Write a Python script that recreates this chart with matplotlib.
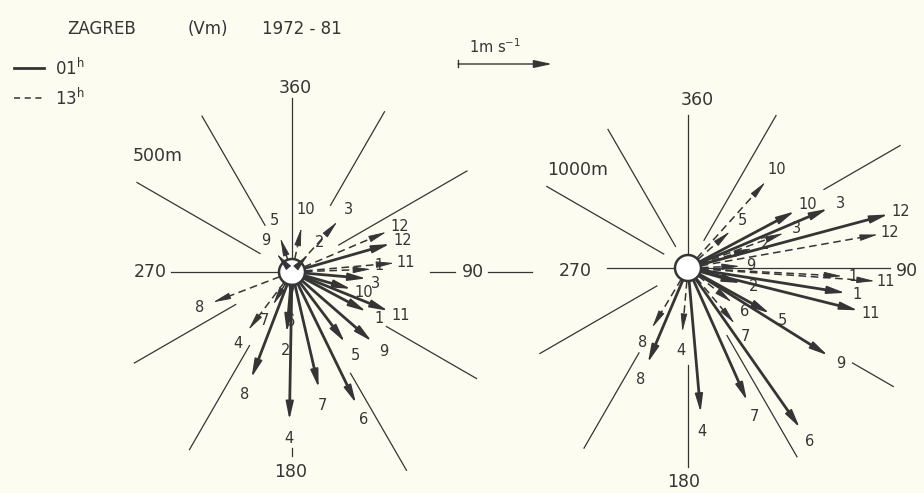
import numpy as np
import matplotlib
matplotlib.use("Agg")
import matplotlib.pyplot as plt
from matplotlib.patches import Circle

# mean wind vectors, Zagreb 1972-81: direction the arrow points (deg from N), speed (m/s)
months = [1, 2, 3, 4, 5, 6, 7, 8, 9, 10, 11, 12]

# 500 m
dir_500_01h = [118, 185, 95, 181, 143, 154, 167, 201, 131, 106, 112, 74]
spd_500_01h = [0.89, 0.64, 0.79, 1.57, 0.93, 1.55, 1.26, 1.20, 1.12, 0.65, 1.10, 1.08]
dir_500_13h = [88, 43, 42, 217, 341, 182, 210, 249, 320, 12, 85, 67]
spd_500_13h = [0.84, 0.25, 0.72, 0.77, 0.38, 0.32, 0.40, 0.90, 0.25, 0.48, 1.09, 1.09]

# 1000 m
dir_1000_01h = [99, 106, 67, 175, 119, 145, 156, 203, 122, 62, 104, 75]
spd_1000_01h = [1.69, 0.58, 1.61, 1.54, 0.99, 2.07, 1.54, 1.09, 1.75, 1.28, 1.86, 2.20]
dir_1000_13h = [93, 73, 70, 185, 49, 128, 140, 211, 88, 42, 94, 80]
spd_1000_13h = [1.64, 0.71, 1.08, 0.68, 0.59, 0.59, 0.77, 0.74, 0.55, 1.23, 1.99, 2.05]

INK = "#353535"
BG = "#fcfcf1"
SCALE = 94.0      # px per 1 m/s
R_CIRC = 13.0

# small label shifts (px) where month numbers would collide
nudge = {("L", True, 1): (-3, -3), ("L", False, 3): (-2, 4)}

fig = plt.figure(figsize=(9.24, 4.93), dpi=100, facecolor=BG)
ax = fig.add_axes([0, 0, 1, 1])
ax.set_xlim(0, 924)
ax.set_ylim(493, 0)
ax.axis("off")
ax.set_facecolor(BG)
plt.rcParams["font.family"] = ["DejaVu Sans"]


def pos(c, deg, r):
    t = np.radians(deg)
    return c[0] + r * np.sin(t), c[1] - r * np.cos(t)


def spoke(c, deg, r0, r1):
    x0, y0 = pos(c, deg, r0)
    x1, y1 = pos(c, deg, r1)
    ax.plot([x0, x1], [y0, y1], color=INK, lw=0.9, zorder=1)


def vec(key, c, deg, spd, lab, dashed):
    r = spd * SCALE
    lw = 1.1 if dashed else 2.0
    ls = (0, (5, 3)) if dashed else "-"
    hl = 11
    rb = max(r - hl, R_CIRC)
    x0, y0 = pos(c, deg, R_CIRC)
    xb, yb = pos(c, deg, rb)
    xt, yt = pos(c, deg, r)
    if rb > R_CIRC:
        ax.plot([x0, xb], [y0, yb], color=INK, lw=lw, ls=ls, zorder=3,
                solid_capstyle="butt")
    hw = 0.10 if dashed else 0.12
    ax.annotate("", xy=(xt, yt), xytext=(xb, yb),
                arrowprops=dict(arrowstyle=f"-|>,head_length=0.55,head_width={hw}",
                                mutation_scale=20, color=INK, lw=lw * 0.6,
                                shrinkA=0, shrinkB=0), zorder=4)
    off = 11 + 8 * abs(np.cos(np.radians(deg)))
    xl, yl = pos(c, deg, r + off)
    dx, dy = nudge.get((key, dashed, lab), (0, 0))
    ax.text(xl + dx, yl + dy, str(lab), ha="center", va="center", fontsize=10.5,
            color=INK, zorder=5)


def panel(key, c, spokes, d01, s01, d13, s13):
    for deg, r0, r1 in spokes:
        spoke(c, deg, r0, r1)
    for m, d, s in zip(months, d13, s13):
        vec(key, c, d, s, m, True)
    for m, d, s in zip(months, d01, s01):
        vec(key, c, d, s, m, False)
    ax.add_patch(Circle(c, R_CIRC, facecolor="white", edgecolor=INK,
                        lw=1.8, zorder=2))


# left panel (500 m)
cL = (292, 272)
spokes_L = [(0, 14, 174), (30, 77, 185), (60, 54, 202), (90, 138, 163), (90, 196, 240),
            (120, 109, 213), (150, 117, 229), (180, 176, 184), (210, 85, 205),
            (240, 65, 182), (270, 14, 121), (300, 37, 179), (330, 54, 180)]
panel("L", cL, spokes_L, dir_500_01h, spd_500_01h, dir_500_13h, spd_500_13h)

# right panel (1000 m)
cR = (688, 268)
spokes_R = [(0, 14, 153), (30, 32, 176), (60, 157, 245), (90, 14, 202),
            (120, 190, 237), (150, 78, 218), (180, 97, 199), (210, 98, 208),
            (240, 36, 171), (270, 14, 81), (300, 28, 163), (330, 25, 160)]
panel("R", cR, spokes_R, dir_1000_01h, spd_1000_01h, dir_1000_13h, spd_1000_13h)

# axis labels
big = dict(ha="center", va="center", fontsize=12.5, color=INK)
ax.text(295, 88, "360", **big)
ax.text(150, 272, "270", **big)
ax.text(473, 272, "90", **big)
ax.text(291, 472, "180", **big)
ax.text(158, 156, "500m", **big)
ax.text(697, 100, "360", **big)
ax.text(575, 271, "270", **big)
ax.text(907, 271, "90", **big)
ax.text(684, 482, "180", **big)
ax.text(578, 170, "1000m", **big)

# title and legend
ax.text(102, 29, "ZAGREB", ha="center", va="center", fontsize=12, color=INK)
ax.text(208, 29, "(Vm)", ha="center", va="center", fontsize=12, color=INK)
ax.text(302, 29, "1972 - 81", ha="center", va="center", fontsize=12, color=INK)
ax.plot([14, 44], [68, 68], color=INK, lw=2)
ax.plot([14, 44], [98, 98], color=INK, lw=1.1, ls=(0, (4, 3)))
ax.text(55, 68, r"01$^{\mathrm{h}}$", ha="left", va="center", fontsize=12, color=INK)
ax.text(55, 98, r"13$^{\mathrm{h}}$", ha="left", va="center", fontsize=12, color=INK)

# 1 m/s reference arrow
ax.text(495, 47, r"1m s$^{-1}$", ha="center", va="center", fontsize=10.5, color=INK)
ax.plot([458, 458], [60, 67], color=INK, lw=1)
ax.annotate("", xy=(458 + SCALE, 64), xytext=(458, 64),
            arrowprops=dict(arrowstyle="-|>,head_length=0.55,head_width=0.12",
                            mutation_scale=20, color=INK, lw=1, shrinkA=0, shrinkB=0))

fig.savefig("out.png", dpi=100, facecolor=BG)
